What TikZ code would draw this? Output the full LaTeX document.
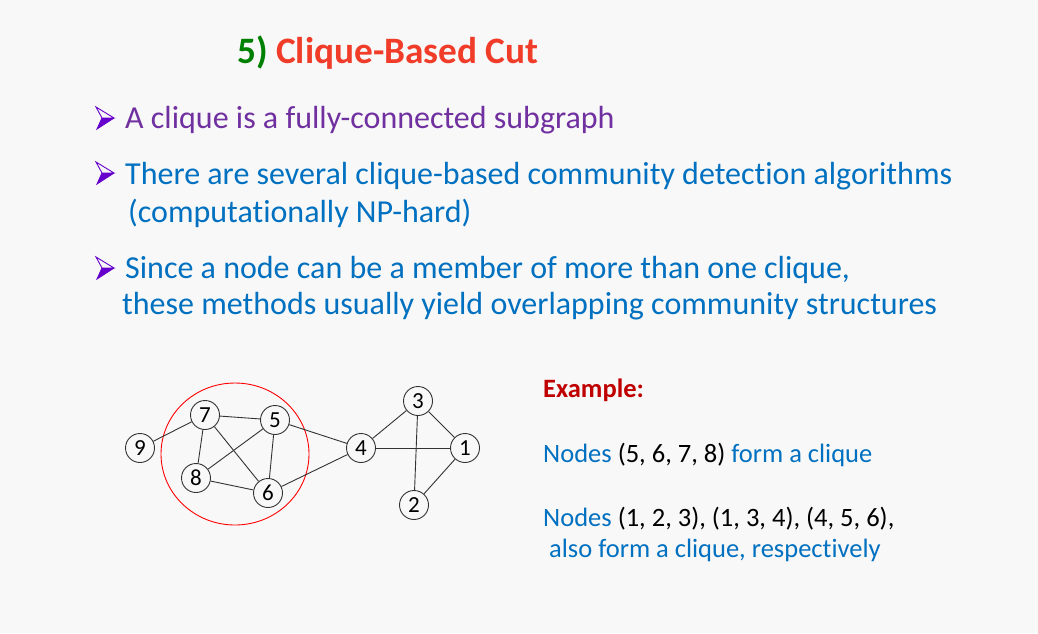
\documentclass[tikz,border=0pt]{standalone}
\usepackage{fontspec}
\setmainfont{Carlito}[Ligatures=NoCommon]
\definecolor{bg}{RGB}{248,248,248}
\definecolor{titlered}{RGB}{240,60,40}
\definecolor{titlegreen}{RGB}{0,128,0}
\definecolor{purpletext}{RGB}{112,48,160}
\definecolor{bluetext}{RGB}{0,112,192}
\definecolor{darkred}{RGB}{192,0,0}
\definecolor{arrowviolet}{RGB}{102,0,204}
\tikzset{
  gnode/.style={circle,draw=black!80,line width=0.9pt,fill=bg,minimum size=29pt,inner sep=0pt,font=\fontsize{23}{23}\selectfont},
  gedge/.style={draw=black!80,line width=0.9pt},
  bullettext/.style={anchor=base west,inner sep=0pt,font=\fontsize{32}{36}\selectfont},
  extext/.style={anchor=base west,inner sep=0pt,font=\fontsize{26.5}{30}\selectfont},
}
\newcommand{\bulletarrow}[2]{%
  \fill[arrowviolet] (#1+6,#2) -- (#1+18,#2) -- (#1+1,#2+11) -- cycle;
  \draw[arrowviolet,line width=0.9pt,line join=miter] (#1,#2-11) -- (#1+18,#2) -- (#1+6,#2) -- cycle;
  \draw[arrowviolet,line width=0.9pt] (#1+18,#2) -- (#1+1,#2+11) -- (#1+6,#2);
}
\begin{document}
\begin{tikzpicture}[x=1pt,y=-1pt]
\path[fill=bg] (0,0) rectangle (1038,633);
\useasboundingbox (0,0) rectangle (1038,633);

% title
\node[anchor=base west,inner sep=0pt,font=\fontsize{37.3}{40}\selectfont\bfseries] (title) at (237,63)
  {\textcolor{titlegreen}{5)} \textcolor{titlered}{Clique-Based Cut}};

% bullets
\bulletarrow{96}{118}
\node[bullettext,text=purpletext] (b1) at (125,128) {A clique is a fully-connected subgraph};
\bulletarrow{96}{173}
\node[bullettext,text=bluetext] (b2) at (125,184) {There are several clique-based community detection algorithms};
\node[bullettext,text=bluetext] (b2b) at (128,222) {(computationally NP-hard)};
\bulletarrow{96}{268}
\node[bullettext,text=bluetext] (b3) at (125,278) {Since a node can be a member of more than one clique,};
\node[bullettext,text=bluetext] (b3b) at (122,314) {these methods usually yield overlapping community structures};

% example text
\node[extext,text=darkred,font=\fontsize{26.5}{30}\selectfont\bfseries] (ex) at (543,397) {Example:};
\node[extext] (e1) at (543,462) {\textcolor{bluetext}{Nodes} (5, 6, 7, 8) \textcolor{bluetext}{form a clique}};
\node[extext] (e2) at (543,526) {\textcolor{bluetext}{Nodes} (1, 2, 3), (1, 3, 4), (4, 5, 6),};
\node[extext,text=bluetext] (e3) at (549,557) {also form a clique, respectively};

% red clique circle
\draw[red,line width=0.9pt] (235,454) ellipse [x radius=74,y radius=71];

% graph nodes
\node[gnode] (n7) at (205,415) {7};
\node[gnode] (n5) at (275,420) {5};
\node[gnode] (n9) at (140,448) {9};
\node[gnode] (n8) at (196,478) {8};
\node[gnode] (n6) at (268,493) {6};
\node[gnode] (n4) at (361,448) {4};
\node[gnode] (n3) at (418,401) {3};
\node[gnode] (n1) at (465,448) {1};
\node[gnode] (n2) at (414,505) {2};

% edges
\foreach \a/\b in {9/7,7/5,7/8,7/6,5/8,5/6,8/6,5/4,6/4,4/3,4/1,3/1,3/2,1/2}
  \draw[gedge] (n\a) -- (n\b);
\end{tikzpicture}
\end{document}
